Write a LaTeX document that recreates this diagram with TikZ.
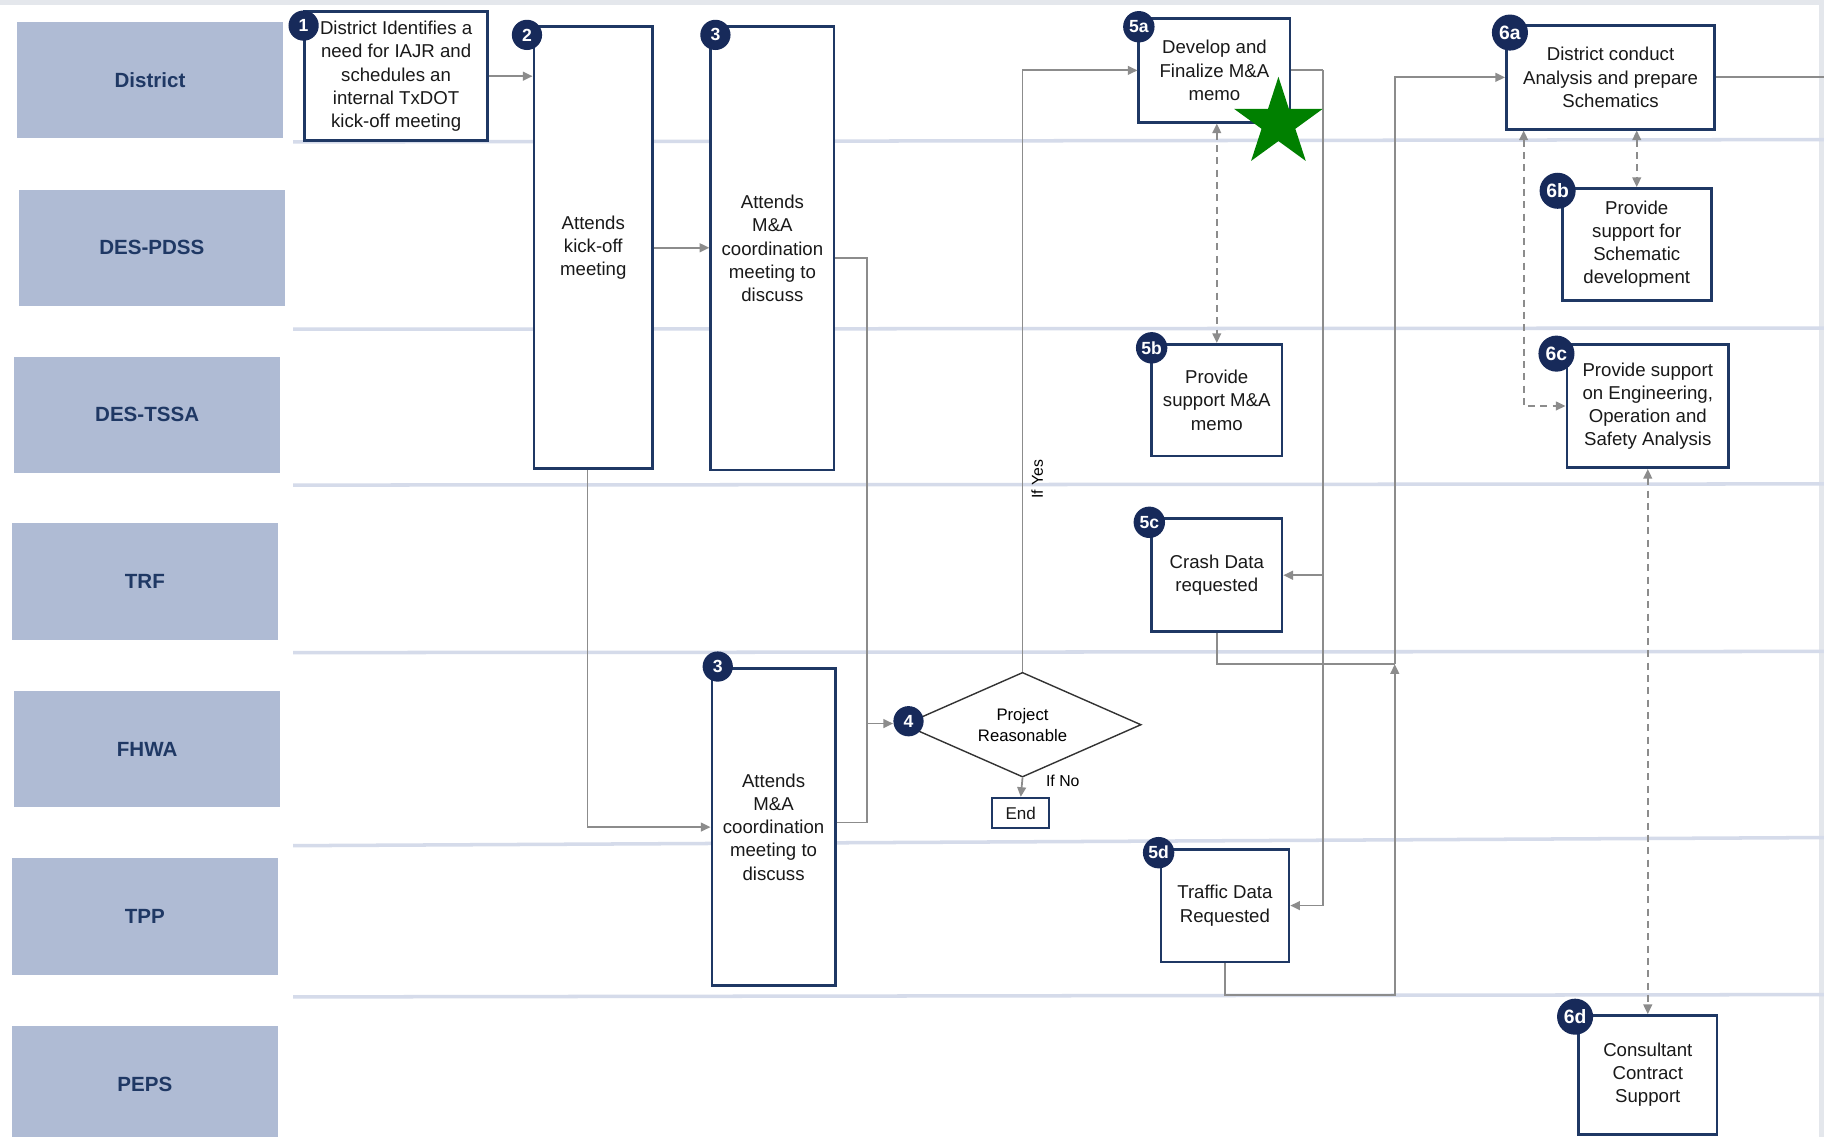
\documentclass[tikz,border=0pt]{standalone}
\usepackage{fontspec}
\setmainfont{Liberation Sans}
\usepackage{xcolor}
\usepackage{tikz}
\usetikzlibrary{shapes,arrows.meta,positioning,backgrounds,calc}

\definecolor{navy}{HTML}{1F3864}
\definecolor{badgeblue}{HTML}{172A5A}
\definecolor{lanefill}{HTML}{AFBBD4}
\definecolor{swimline}{HTML}{D5DBEA}
\definecolor{linegray}{HTML}{8C8C8C}
\definecolor{edgegray}{HTML}{E4E7EC}
\definecolor{stargreen}{HTML}{008000}

\newcommand{\pxu}{0.023265cm}

\begin{document}
\begin{tikzpicture}[
    x=0.023265cm, y=-0.023265cm,
    lane/.style={rectangle, fill=lanefill, text=navy, font=\fontsize{11.7pt}{14pt}\selectfont\bfseries, minimum width=229*\pxu, minimum height=100*\pxu},
    task/.style={rectangle, draw=navy, line width=1.6pt, fill=white, align=center, text=black!90, font=\fontsize{10.6pt}{13.2pt}\selectfont, inner sep=2pt},
    choice/.style={diamond, draw=black!80, line width=0.8pt, fill=white, aspect=2.3, minimum width=204*\pxu, minimum height=90*\pxu, inner sep=2pt, align=center, font=\fontsize{9.5pt}{11.9pt}\selectfont},
    badge/.style={circle, fill=badgeblue, text=white, inner sep=0pt, minimum size=26*\pxu, font=\fontsize{10pt}{12pt}\selectfont\bfseries},
    widebadge/.style={badge, minimum size=31*\pxu, font=\fontsize{11pt}{13pt}\selectfont\bfseries},
    flow/.style={draw=linegray, line width=1pt, -{Triangle[length=5.5pt, width=5pt]}},
    plain/.style={draw=linegray, line width=1pt},
    duplex/.style={draw=linegray, line width=1pt, dash pattern=on 4pt off 3pt, {Triangle[length=5.5pt, width=5pt]}-{Triangle[length=5.5pt, width=5pt]}},
    lbl/.style={font=\fontsize{9pt}{11pt}\selectfont, inner sep=1pt},
    swim/.style={draw=swimline, line width=2pt},
]
\useasboundingbox (0,0) rectangle (1568,977);

% Background, frame and lane dividers
\begin{scope}[on background layer]
\fill[white] (0,0) rectangle (1568,977);
\fill[edgegray] (0,0) rectangle (1568,4);
\fill[edgegray] (1564,0) rectangle (1568,977);
\draw[swim] (252,122) -- (1568,120);
\draw[swim] (252,283) -- (1568,282);
\draw[swim] (252,417) -- (1568,416);
\draw[swim] (252,561) -- (1568,560);
\draw[swim] (252,727) -- (1568,720);
\draw[swim] (252,857) -- (1568,855);
\end{scope}

% Lane labels
\node[lane] (district) at (129,69) {District};
\node[lane] (pdss) at (130.5,213) {DES-PDSS};
\node[lane] (tssa) at (126.5,356.5) {DES-TSSA};
\node[lane] (trf) at (124.5,500) {TRF};
\node[lane] (fhwa) at (126.5,644) {FHWA};
\node[lane] (tpp) at (124.5,788) {TPP};
\node[lane] (peps) at (124.5,932) {PEPS};

% Steps 1 to 4
\node[task, minimum width=157*\pxu, minimum height=111*\pxu] (identify) at (340.5,65.5) {District Identifies a\\need for IAJR and\\schedules an\\internal TxDOT\\kick-off meeting};
\node[task, minimum width=102*\pxu, minimum height=380*\pxu] (kickoff) at (510,213) {Attends\\kick-off\\meeting};
\node[task, minimum width=106*\pxu, minimum height=381*\pxu] (coordtop) at (664,213.5) {Attends\\M\&A\\coordination\\meeting to\\discuss};
\node[task, minimum width=106*\pxu, minimum height=272*\pxu] (coordbot) at (665,711) {Attends\\M\&A\\coordination\\meeting to\\discuss};
\node[choice] (reasonable) at (879,623) {Project\\Reasonable};
\node[task, line width=1.3pt, minimum width=49*\pxu, minimum height=26*\pxu, font=\fontsize{9.7pt}{11pt}\selectfont] (finish) at (877.5,699) {End};

% Step 5
\node[task, minimum width=130*\pxu, minimum height=89*\pxu] (memo) at (1044,60.5) {Develop and\\Finalize M\&A\\memo};
\node[task, minimum width=112*\pxu, minimum height=96*\pxu] (memohelp) at (1046,344) {Provide\\support M\&A\\memo};
\node[task, minimum width=112*\pxu, minimum height=97*\pxu] (crash) at (1046,494.5) {Crash Data\\requested};
\node[task, minimum width=110*\pxu, minimum height=97*\pxu] (traffic) at (1053,778.5) {Traffic Data\\Requested};

% Step 6
\node[task, minimum width=179*\pxu, minimum height=89*\pxu] (schematics) at (1384.5,66.5) {District conduct\\Analysis and prepare\\Schematics};
\node[task, minimum width=128*\pxu, minimum height=96*\pxu] (schemhelp) at (1407,210) {Provide\\support for\\Schematic\\development};
\node[task, minimum width=139*\pxu, minimum height=106*\pxu] (enghelp) at (1416.5,349) {Provide support\\on Engineering,\\Operation and\\Safety Analysis};
\node[task, minimum width=119*\pxu, minimum height=102*\pxu] (consultant) at (1416.5,924) {Consultant\\Contract\\Support};

% Step numbers
\node[badge] (n1) at (261,22) {1};
\node[badge] (n2) at (453,30) {2};
\node[badge] (n3a) at (615,30) {3};
\node[badge] (n3b) at (617,573) {3};
\node[badge] (n4) at (781,620) {4};
\node[badge, minimum size=27*\pxu] (n5a) at (979,23) {5a};
\node[badge, minimum size=27*\pxu] (n5b) at (990,299) {5b};
\node[badge, minimum size=27*\pxu] (n5c) at (988,449) {5c};
\node[badge, minimum size=27*\pxu] (n5d) at (996,733) {5d};
\node[widebadge] (n6a) at (1298,28) {6a};
\node[widebadge] (n6b) at (1339,164) {6b};
\node[widebadge] (n6c) at (1338,304) {6c};
\node[widebadge] (n6d) at (1354,874) {6d};

% Arrows
\coordinate (j4) at (745,622);
\coordinate (j6) at (1199,571);
\draw[flow] (identify.east) -- (identify.east -| kickoff.west);
\draw[flow] (kickoff.east) -- (kickoff.east -| coordtop.west);
\draw[flow] ([xshift=-5*\pxu]kickoff.south) |- (coordbot.west);
\draw[plain] ([yshift=-8*\pxu]coordtop.east) -| (j4);
\draw[plain] ([yshift=4*\pxu]coordbot.east) -| (j4);
\draw[flow] (j4) -- (j4 -| n4.west);
\draw[flow] (reasonable.north) |- (memo.west) node[lbl, pos=0.16, rotate=90, anchor=north, inner ysep=4.5pt] {If Yes};
\draw[flow] (reasonable.south) -- (finish.north) node[lbl, pos=0, anchor=west, xshift=18*\pxu, yshift=-3*\pxu] {If No};
\draw[plain] (memo.east) -- ++(27,0) coordinate (j5);
\draw[flow] (j5) |- (crash.east);
\draw[flow] (j5) |- (traffic.east);
\draw[plain] (crash.south) |- (j6);
\draw[flow] (traffic.south) -- ++(0,27) -| (j6);
\draw[flow] (j6) |- (schematics.west);
\draw[plain] (schematics.east) -- ++(100,0);
\draw[duplex] (memohelp.north |- memo.south) -- (memohelp.north);
\draw[duplex] (schemhelp.north |- schematics.south) -- (schemhelp.north);
\draw[duplex] ([xshift=16*\pxu]schematics.south west) |- (enghelp.west);
\draw[duplex] (enghelp.south) -- (consultant.north);

% Marker
\node[star, star points=5, star point ratio=2.618, fill=stargreen, inner sep=0pt, minimum size=80*\pxu] (flag) at (1099,106) {};

\end{tikzpicture}
\end{document}
